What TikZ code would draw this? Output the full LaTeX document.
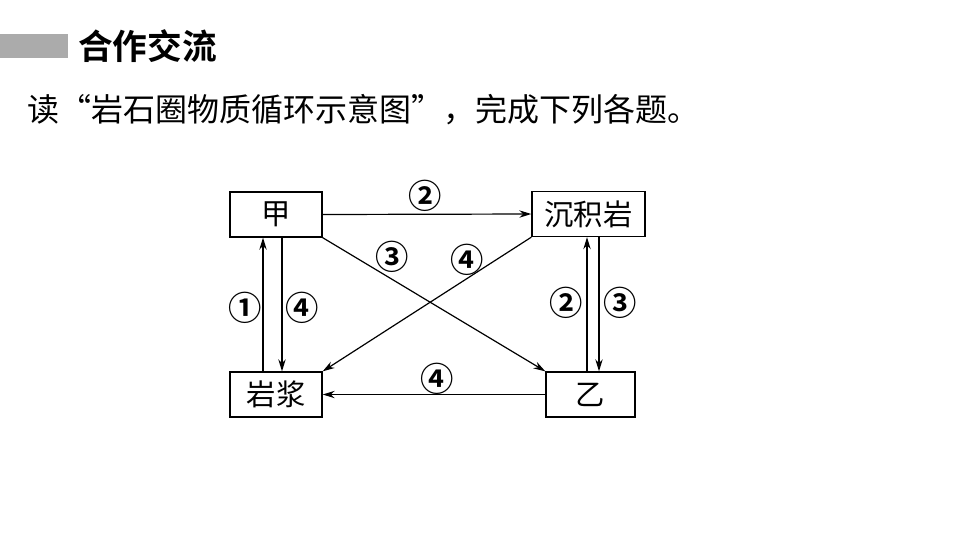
\documentclass[tikz,border=0pt]{standalone}
\usepackage{fontspec}
\setmainfont{Noto Sans CJK SC}
\newfontfamily\cjk{Noto Sans CJK SC}
\newfontfamily\cjkb{Noto Sans CJK SC Bold}
\usetikzlibrary{arrows.meta}
\begin{document}
\begin{tikzpicture}[x=0.75pt,y=-0.75pt,
  rock/.style={draw=black,line width=1pt,minimum height=45*0.75pt,inner sep=0pt,font=\cjk\fontsize{22pt}{22pt}\selectfont},
  flow/.style={line width=0.9pt,-{Stealth[length=9pt,width=5.5pt]}},
  num/.style={font=\cjkb\fontsize{25pt}{25pt}\selectfont,inner sep=0pt}]
\useasboundingbox (0,0) rectangle (960,540);
\fill[white] (0,0) rectangle (960,540);
\fill[black!33] (0,34) rectangle (68,58);
\node[anchor=west,inner sep=0pt,font=\cjkb\fontsize{26pt}{26pt}\selectfont] (title) at (78,46) {合作交流};
\node[anchor=west,inner sep=0pt,font=\cjk\fontsize{24pt}{24pt}\selectfont] (sub) at (27,110) {读“岩石圈物质循环示意图”，完成下列各题。};
\node[rock,minimum width=92*0.75pt] (jia) at (276,214.5) {甲};
\node[rock,minimum width=113*0.75pt] (chen) at (588.5,214) {沉积岩};
\node[rock,minimum width=92*0.75pt] (yan) at (276,394.5) {岩浆};
\node[rock,minimum width=89*0.75pt] (yi) at (590.5,394.5) {乙};
\draw[flow] (jia.east) -- (chen.west);
\node[num] (n1) at (425,196) {②};
\draw[flow] (jia.south east) -- (yi.north west);
\node[num] (n2) at (392,257) {③};
\draw[flow] (chen.south west) -- (yan.north east);
\node[num] (n3) at (467,260) {④};
\draw[flow] (yan.north -| 263,0) -- (jia.south -| 263,0);
\node[num] (n4) at (245,308) {①};
\draw[flow] (jia.south -| 282,0) -- (yan.north -| 282,0);
\node[num] (n5) at (302,308) {④};
\draw[flow] (yi.north -| 587,0) -- (chen.south -| 587,0);
\node[num] (n6) at (566,303) {②};
\draw[flow] (chen.south -| 599,0) -- (yi.north -| 599,0);
\node[num] (n7) at (620,303) {③};
\draw[flow] (yi.west) -- (yan.east);
\node[num] (n8) at (437,379) {④};
\end{tikzpicture}
\end{document}
